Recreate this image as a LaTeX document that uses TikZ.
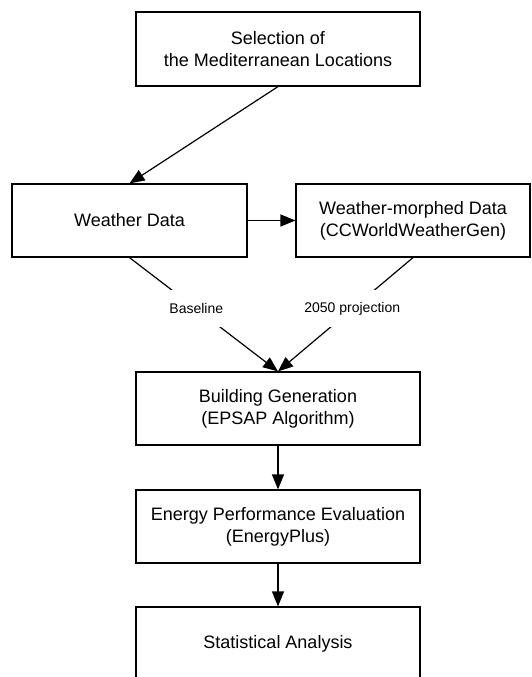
\documentclass[tikz,border=0pt]{standalone}
\usepackage{fontspec}
\setmainfont{Liberation Sans}
\usetikzlibrary{arrows.meta}

\begin{document}
\begin{tikzpicture}
    [x=1pt,y=-1pt,line width=1.2pt,>={Triangle[length=15pt,width=12pt]},
     box/.style={draw,align=center,font=\fontsize{18}{22}\selectfont,minimum height=73pt,inner sep=0pt},
     tag/.style={fill=white,font=\fontsize{14}{17}\selectfont,minimum height=37pt,inner sep=1pt}]
      \clip (0,0) rectangle (531,677);

      \node (sel)[box,minimum width=284pt,minimum height=74pt] at (278,49)  {Selection of\\the Mediterranean Locations};
      \node (wd)[box,minimum width=235pt]  at (129.5,220.5) {Weather Data};
      \node (wm)[box,minimum width=234pt]  at (413,220.5)   {Weather-morphed Data\\(CCWorldWeatherGen)};
      \node (bg)[box,minimum width=284pt]  at (278,408.5)   {Building Generation\\(EPSAP Algorithm)};
      \node (epe)[box,minimum width=284pt] at (278,526.5)   {Energy Performance Evaluation\\(EnergyPlus)};
      \node (sa)[box,minimum width=284pt]  at (278,643.5)   {Statistical Analysis};

      \foreach \from/\to in {sel.south/wd.north,wd.east/wm.west,bg.south/epe.north,epe.south/sa.north}
	\draw[->] (\from) -- (\to);

      % the two weather sets feeding the generator
      \draw[->] (wd.south) -- node[tag,pos=0.45] {Baseline} (bg.north);
      \draw[->] (wm.south) -- node[tag,pos=0.45] {2050 projection} (bg.north);
    \end{tikzpicture}
\end{document}
